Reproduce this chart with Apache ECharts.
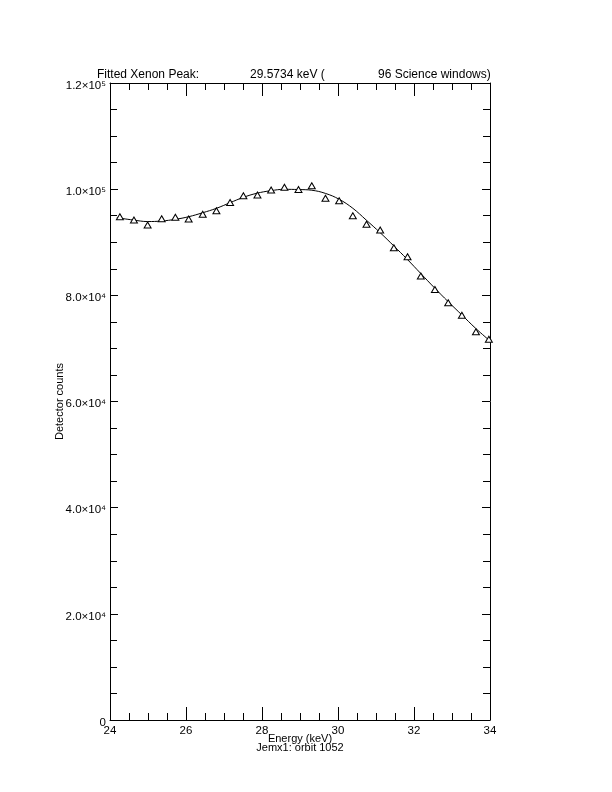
<!DOCTYPE html>
<html>
<head>
<meta charset="utf-8">
<script src="https://cdn.jsdelivr.net/npm/echarts@6/dist/echarts.min.js"></script>
<style>html,body{margin:0;padding:0;background:#fff}#c{width:612px;height:792px}</style>
</head>
<body>
<div id="c"></div>
<script>
// Measured data points (energy keV, detector counts)
var dataEnergy = [24.26, 24.63, 24.99, 25.36, 25.72, 26.07, 26.44, 26.80, 27.16, 27.51, 27.88, 28.24, 28.59, 28.96,
                  29.31, 29.67, 30.03, 30.39, 30.75, 31.11, 31.47, 31.83, 32.18, 32.55, 32.90, 33.26, 33.63, 33.97];
var dataCounts = [94800, 94200, 93250, 94430, 94700, 94380, 95270, 95940, 97490, 98770, 98900, 99840, 100350, 99930,
                  100650, 98280, 97830, 95000, 93380, 92310, 88970, 87260, 83640, 81100, 78610, 76260, 73150, 71720];
// Fitted curve
var fitEnergy = [24.18, 24.61, 24.99, 25.36, 25.72, 26.07, 26.44, 26.80, 27.16, 27.51, 27.86, 28.23, 28.59, 28.96,
                 29.31, 29.67, 30.03, 30.39, 30.74, 31.11, 31.47, 31.82, 32.18, 32.54, 32.90, 33.26, 33.62, 34.00];
var fitCounts = [94620, 94190, 93900, 94000, 94320, 94810, 95560, 96390, 97450, 98460, 99220, 99710, 99970, 99930,
                 99800, 99200, 98100, 96400, 94200, 91800, 89300, 86800, 84100, 81400, 78800, 76300, 73800, 71400];
var yTickValues = [0, 20000, 40000, 60000, 80000, 100000, 120000];
var yTickLabels = ['0', '2.0×10⁴', '4.0×10⁴', '6.0×10⁴', '8.0×10⁴', '1.0×10⁵', '1.2×10⁵'];
var titleParts = ['Fitted Xenon Peak:', '29.5734 keV (', '96 Science windows)'];
var xName = 'Energy (keV)';
var subName = 'Jemx1: orbit 1052';
var yName = 'Detector counts';

var FONT = '"Liberation Sans", Arial, sans-serif';
var scatterData = dataEnergy.map(function (e, i) { return [e, dataCounts[i]]; });
var fitData = fitEnergy.map(function (e, i) { return [e, fitCounts[i]]; });

var chart = echarts.init(document.getElementById('c'), null, {renderer: 'canvas'});
var axisLine = {show: true, onZero: false, lineStyle: {color: '#000', width: 1}};
chart.setOption({
  backgroundColor: '#fff',
  animation: false,
  title: {
    left: 97, top: 69, padding: 0,
    text: '{a|' + titleParts[0] + '}{b|' + titleParts[1] + '}{c|' + titleParts[2] + '}',
    textStyle: {
      fontWeight: 'normal',
      rich: {
        a: {width: 153, fontSize: 12, fontFamily: FONT, color: '#000', fontWeight: 'normal'},
        b: {width: 128, fontSize: 12, fontFamily: FONT, color: '#000', fontWeight: 'normal'},
        c: {fontSize: 12, fontFamily: FONT, color: '#000', fontWeight: 'normal'}
      }
    }
  },
  grid: {left: 110, right: 122, top: 83, bottom: 72, containLabel: false},
  xAxis: [{
    type: 'value', min: 24, max: 34, interval: 2, position: 'bottom',
    axisLine: axisLine,
    axisTick: {show: true, inside: true, length: 13, lineStyle: {color: '#000'}},
    minorTick: {show: true, splitNumber: 4, length: 7, lineStyle: {color: '#000'}},
    splitLine: {show: false},
    axisLabel: {color: '#000', fontSize: 11.5, fontFamily: FONT, margin: 5},
    name: '{n|' + xName + '}\n{m|' + subName + '}',
    nameLocation: 'middle', nameGap: 14, nameMoveOverlap: false,
    nameTextStyle: {
      rich: {
        n: {fontSize: 11, fontFamily: FONT, color: '#000', lineHeight: 9},
        m: {fontSize: 11, fontFamily: FONT, color: '#000', lineHeight: 9}
      }
    }
  }, {
    type: 'value', min: 24, max: 34, interval: 2, position: 'top',
    axisLine: axisLine,
    axisTick: {show: true, inside: true, length: 13, lineStyle: {color: '#000'}},
    minorTick: {show: true, splitNumber: 4, length: 7, lineStyle: {color: '#000'}},
    splitLine: {show: false},
    axisLabel: {show: false}
  }],
  yAxis: [{
    type: 'value', min: 0, max: 120000, interval: 20000, position: 'left',
    axisLine: axisLine,
    axisTick: {show: true, inside: true, length: 8, lineStyle: {color: '#000'}},
    minorTick: {show: true, splitNumber: 4, length: 7, lineStyle: {color: '#000'}},
    splitLine: {show: false},
    axisLabel: {
      color: '#000', fontSize: 11.5, fontFamily: FONT, margin: 4,
      formatter: function (v) {
        var i = yTickValues.indexOf(v);
        return i >= 0 ? '{v|' + yTickLabels[i] + '}' : '';
      },
      rich: {v: {fontSize: 11.5, fontFamily: FONT, color: '#000', padding: [5, 0, 0, 0]}}
    },
    name: yName, nameLocation: 'middle', nameGap: 45, nameRotate: 90, nameMoveOverlap: false,
    nameTextStyle: {fontSize: 11, fontFamily: FONT, color: '#000'}
  }, {
    type: 'value', min: 0, max: 120000, interval: 20000, position: 'right',
    axisLine: axisLine,
    axisTick: {show: true, inside: true, length: 8, lineStyle: {color: '#000'}},
    minorTick: {show: true, splitNumber: 4, length: 7, lineStyle: {color: '#000'}},
    splitLine: {show: false},
    axisLabel: {show: false}
  }],
  series: [{
    type: 'line', data: fitData, xAxisIndex: 0, yAxisIndex: 0,
    smooth: 0.4, showSymbol: false, symbol: 'none',
    lineStyle: {color: '#000', width: 1}, z: 2
  }, {
    type: 'scatter', data: scatterData, xAxisIndex: 0, yAxisIndex: 0,
    symbol: 'triangle', symbolSize: [7, 6],
    itemStyle: {color: '#fff', borderColor: '#000', borderWidth: 1, opacity: 1}, z: 3
  }]
});
</script>
</body>
</html>
